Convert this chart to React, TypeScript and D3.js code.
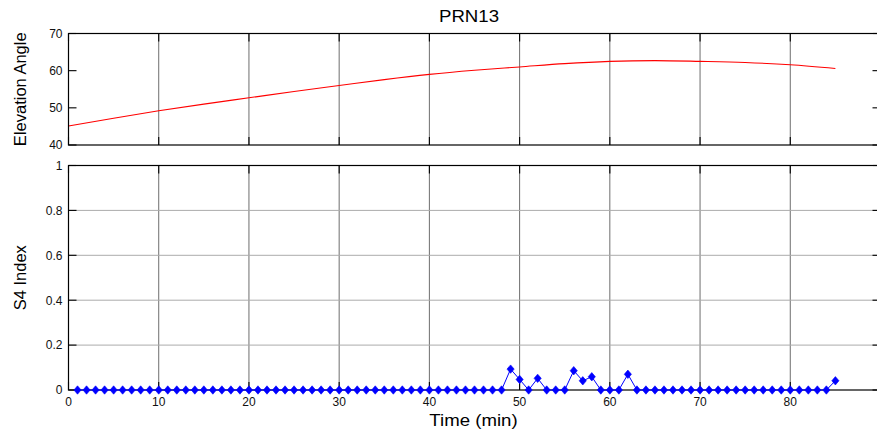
import React from "react";
import * as d3 from "d3";

// Elevation angle of PRN13 (degrees), sampled every 5 minutes
const elevMinutes = [0, 5, 10, 15, 20, 25, 30, 35, 40, 45, 50, 55, 60, 65, 70, 75, 80, 85];
const elevValues = [45.1, 47.2, 49.2, 51.0, 52.7, 54.4, 56.0, 57.6, 59.0, 60.1, 61.0, 61.9, 62.5, 62.7, 62.5, 62.2, 61.6, 60.6];

// S4 scintillation index, one sample per minute (1..85)
const s4Minutes = d3.range(1, 86);
const s4Values = [
  0, 0, 0, 0, 0, 0, 0, 0, 0, 0,
  0, 0, 0, 0, 0, 0, 0, 0, 0, 0,
  0, 0, 0, 0, 0, 0, 0, 0, 0, 0,
  0, 0, 0, 0, 0, 0, 0, 0, 0, 0,
  0, 0, 0, 0, 0, 0, 0, 0, 0.093, 0.047,
  0, 0.052, 0, 0, 0, 0.086, 0.041, 0.059, 0, 0,
  0, 0.07, 0, 0, 0, 0, 0, 0, 0, 0,
  0, 0, 0, 0, 0, 0, 0, 0, 0, 0,
  0, 0, 0, 0, 0.041,
];

const xTicks = [0, 10, 20, 30, 40, 50, 60, 70, 80, 90];
const xTickLabels = ["0", "10", "20", "30", "40", "50", "60", "70", "80"];
const elevTicks = [40, 50, 60, 70];
const s4Ticks = [0, 0.2, 0.4, 0.6, 0.8, 1];
const s4TickLabels = ["0", "0.2", "0.4", "0.6", "0.8", "1"];

const W = 877;
const H = 434;
const FONT = "'Liberation Sans', Arial, Helvetica, sans-serif";
const TICK = 8;
const TICK_FONT = 12;

const left = 68.5;
const right = 880.5;
const top1 = 33.5;
const bottom1 = 145;
const top2 = 165.5;
const bottom2 = 390;

export default function App() {
  const x = d3.scaleLinear().domain([0, 90]).range([left, right]);
  const yE = d3.scaleLinear().domain([40, 70]).range([bottom1, top1]);
  const yS = d3.scaleLinear().domain([0, 1]).range([bottom2, top2]);

  const elevLine = d3
    .line<number>()
    .x((_, i) => x(elevMinutes[i]))
    .y((d) => yE(d))
    .curve(d3.curveMonotoneX)(elevValues) as string;

  const s4Line = d3
    .line<number>()
    .x((_, i) => x(s4Minutes[i]))
    .y((d) => yS(d))(s4Values) as string;

  const diamond = (cx: number, cy: number) =>
    `M${cx},${cy - 4.2}L${cx + 3.6},${cy}L${cx},${cy + 4.2}L${cx - 3.6},${cy}Z`;

  const xInner = xTicks.filter((t) => t > 0 && t < 90);

  const panelFrame = (t: number, b: number) => (
    <rect x={left} y={t} width={right - left} height={b - t} fill="none" stroke="#000" strokeWidth={1.2} />
  );

  const xTickMarks = (t: number, b: number) =>
    xTicks.map((v) => (
      <g key={"xt" + v}>
        <line x1={x(v)} x2={x(v)} y1={b} y2={b - TICK} stroke="#000" strokeWidth={1.1} />
        <line x1={x(v)} x2={x(v)} y1={t} y2={t + TICK} stroke="#000" strokeWidth={1.1} />
      </g>
    ));

  const yTickMarks = (ticks: number[], y: (v: number) => number, labels: string[]) =>
    ticks.map((v, i) => (
      <g key={"yt" + v}>
        <line x1={left} x2={left + TICK} y1={y(v)} y2={y(v)} stroke="#000" strokeWidth={1.1} />
        <line x1={right} x2={right - TICK} y1={y(v)} y2={y(v)} stroke="#000" strokeWidth={1.1} />
        <text x={62.5} y={y(v)} dy="0.36em" textAnchor="end" fontSize={TICK_FONT} fill="#111">
          {labels[i]}
        </text>
      </g>
    ));

  return (
    <svg
      width={W}
      height={H}
      style={{ position: "absolute", left: 0, top: 0, background: "#fff" }}
      fontFamily={FONT}
    >
      <rect x={0} y={0} width={W} height={H} fill="#fff" />

      {/* title */}
      <text transform={`translate(469,22) scale(1.13,1)`} textAnchor="middle" fontSize={16.5} fill="#000">
        PRN13
      </text>

      {/* upper panel: elevation angle */}
      {xInner.map((v) => (
        <line key={"g1" + v} x1={x(v)} x2={x(v)} y1={top1} y2={bottom1} stroke="#6e6e6e" strokeWidth={1} />
      ))}
      <path d={elevLine} fill="none" stroke="#ff0000" strokeWidth={1.1} />
      {panelFrame(top1, bottom1)}
      {xTickMarks(top1, bottom1)}
      {yTickMarks(elevTicks, yE, elevTicks.map(String))}
      <text
        transform={`translate(26,${(top1 + bottom1) / 2}) rotate(-90)`}
        textAnchor="middle"
        fontSize={16.5}
        fill="#000"
      >
        Elevation Angle
      </text>

      {/* lower panel: S4 index */}
      {xInner.map((v) => (
        <line key={"g2" + v} x1={x(v)} x2={x(v)} y1={top2} y2={bottom2} stroke="#6e6e6e" strokeWidth={1} />
      ))}
      {s4Ticks
        .filter((v) => v > 0 && v < 1)
        .map((v) => (
          <line key={"h2" + v} x1={left} x2={right} y1={yS(v)} y2={yS(v)} stroke="#acacac" strokeWidth={1} />
        ))}
      {panelFrame(top2, bottom2)}
      {xTickMarks(top2, bottom2)}
      {yTickMarks(s4Ticks, yS, s4TickLabels)}
      <path d={s4Line} fill="none" stroke="#0000ff" strokeWidth={1} />
      {s4Values.map((v, i) => (
        <path key={"m" + i} d={diamond(x(s4Minutes[i]), yS(v))} fill="#0000ff" stroke="#0000ff" strokeWidth={0.6} />
      ))}
      {xTickLabels.map((lab, i) => (
        <text key={"xl" + lab} x={x(xTicks[i])} y={406} textAnchor="middle" fontSize={TICK_FONT} fill="#111">
          {lab}
        </text>
      ))}
      <text
        transform={`translate(26,${(top2 + bottom2) / 2}) rotate(-90)`}
        textAnchor="middle"
        fontSize={16.5}
        fill="#000"
      >
        S4 Index
      </text>
      <text transform={`translate(473.5,426) scale(1.13,1)`} textAnchor="middle" fontSize={16.5} fill="#000">
        Time (min)
      </text>
    </svg>
  );
}
